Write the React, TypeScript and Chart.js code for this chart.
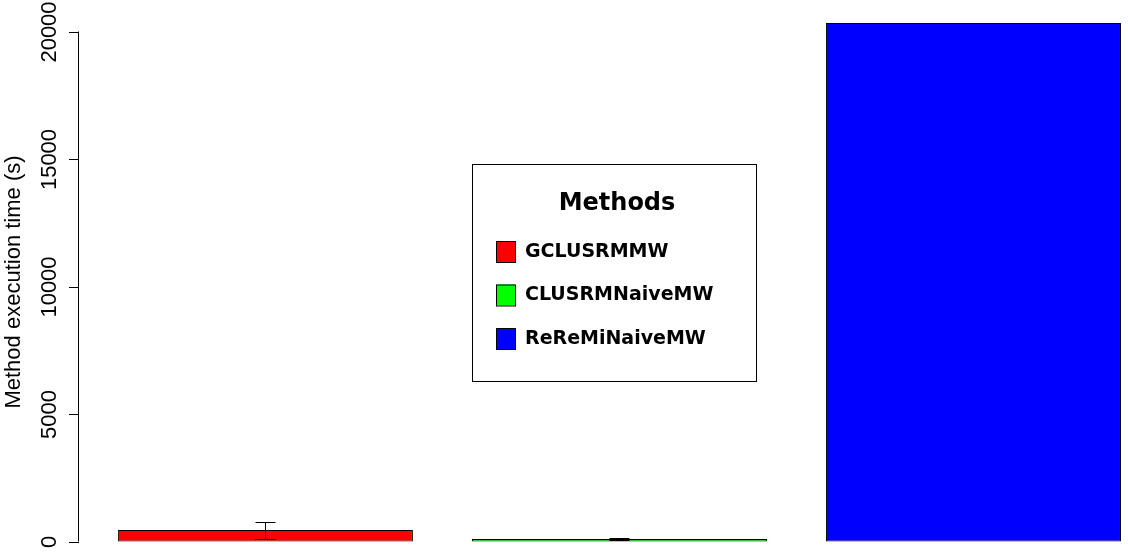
import React, { useEffect, useRef } from "react";
import { Chart, registerables } from "chart.js";

Chart.register(...registerables);

const methods = ["GCLUSRMMW", "CLUSRMNaiveMW", "ReReMiNaiveMW"];
const positions = [1, 2, 3];
const times = [471, 118, 20350];
const errLow: (number | null)[] = [130, 60, null];
const errHigh: (number | null)[] = [770, 150, null];
const colors = ["#ff0000", "#00ff00", "#0000ff"];
const yTickValues = [0, 5000, 10000, 15000, 20000];
const yTitle = "Method execution time (s)";
const legendTitle = "Methods";

const rAxisPlugin = {
  id: "rAxis",
  afterDraw(chart: any) {
    const { ctx } = chart;
    const ys = chart.scales.y;
    const x = Math.round(ys.right) - 0.5;
    ctx.save();
    ctx.strokeStyle = "#000";
    ctx.lineWidth = 1;
    ctx.beginPath();
    ctx.moveTo(x, Math.round(ys.getPixelForValue(yTickValues[0])) - 0.5);
    ctx.lineTo(x, Math.round(ys.getPixelForValue(yTickValues[yTickValues.length - 1])) - 0.5);
    ctx.stroke();
    ctx.fillStyle = "#000";
    ctx.font = '22px "Liberation Sans", Arial, sans-serif';
    ctx.textAlign = "center";
    ctx.textBaseline = "alphabetic";
    for (const v of yTickValues) {
      const py = ys.getPixelForValue(v);
      ctx.save();
      ctx.translate(55.5, py);
      ctx.rotate(-Math.PI / 2);
      ctx.fillText(String(v), 0, 0);
      ctx.restore();
    }
    ctx.save();
    ctx.translate(20, 282);
    ctx.rotate(-Math.PI / 2);
    ctx.fillText(yTitle, 0, 0);
    ctx.restore();
    ctx.restore();
  },
};

const errorBarPlugin = {
  id: "errBars",
  afterDatasetsDraw(chart: any) {
    const { ctx } = chart;
    const xs = chart.scales.x;
    const ys = chart.scales.y;
    ctx.save();
    ctx.strokeStyle = "#000";
    ctx.lineWidth = 1;
    positions.forEach((p, i) => {
      const lo = errLow[i];
      const hi = errHigh[i];
      if (lo == null || hi == null) return;
      const px = Math.round(xs.getPixelForValue(p)) + 0.5;
      const y1 = Math.round(ys.getPixelForValue(lo)) + 0.5;
      const y2 = Math.round(ys.getPixelForValue(hi)) + 0.5;
      ctx.beginPath();
      ctx.moveTo(px, y1);
      ctx.lineTo(px, y2);
      ctx.moveTo(px - 10, y1);
      ctx.lineTo(px + 10, y1);
      ctx.moveTo(px - 10, y2);
      ctx.lineTo(px + 10, y2);
      ctx.stroke();
    });
    ctx.restore();
  },
};

const boxLegendPlugin = {
  id: "boxLegend",
  afterDraw(chart: any) {
    const { ctx } = chart;
    const o = chart.options.plugins.boxLegend;
    ctx.save();
    ctx.fillStyle = "#fff";
    ctx.fillRect(o.x, o.y, o.w, o.h);
    ctx.strokeStyle = "#000";
    ctx.lineWidth = 1;
    ctx.strokeRect(o.x + 0.5, o.y + 0.5, o.w, o.h);
    ctx.fillStyle = "#000";
    ctx.textBaseline = "middle";
    ctx.textAlign = "center";
    ctx.font = 'bold 24px "DejaVu Sans", sans-serif';
    ctx.fillText(legendTitle, o.x + o.w / 2 + 3, o.titleY);
    ctx.textAlign = "left";
    ctx.font = 'bold 19px "DejaVu Sans", sans-serif';
    methods.forEach((m, i) => {
      const cy = o.firstY + i * o.rowGap;
      ctx.fillStyle = colors[i];
      ctx.fillRect(o.x + 24, cy - 10, 19, 21);
      ctx.strokeStyle = "#000";
      ctx.strokeRect(o.x + 24.5, cy - 10 + 0.5, 19, 21);
      ctx.fillStyle = "#000";
      ctx.fillText(m, o.x + 53, cy + 1);
    });
    ctx.restore();
  },
};

export default function App() {
  const ref = useRef<HTMLCanvasElement | null>(null);
  useEffect(() => {
    document.body.style.margin = "0";
    const canvas = ref.current;
    if (!canvas) return;
    const chart = new Chart(canvas, {
      type: "bar",
      data: {
        datasets: [
          {
            label: legendTitle,
            data: positions.map((p, i) => ({ x: p, y: times[i] })),
            backgroundColor: colors,
            borderColor: "#000",
            borderWidth: 1,
            borderSkipped: false,
            barPercentage: 295 / 354,
            categoryPercentage: 1,
          },
        ],
      },
      options: {
        responsive: false,
        animation: false,
        events: [],
        layout: { padding: { top: 6.5, bottom: 11, left: 0, right: 0 } },
        plugins: {
          legend: { display: false },
          tooltip: { enabled: false },
          boxLegend: { x: 472, y: 164, w: 284, h: 217, titleY: 204, firstY: 251, rowGap: 43.5 },
        } as any,
        scales: {
          x: {
            type: "linear",
            display: false,
            offset: false,
            min: 0.4735,
            max: 3.4365,
            afterBuildTicks: (s: any) => {
              s.ticks = positions.map((v) => ({ value: v }));
            },
          },
          y: {
            type: "linear",
            min: 0,
            max: 21000,
            afterFit: (s: any) => {
              s.width = 79;
            },
            afterBuildTicks: (s: any) => {
              s.ticks = yTickValues.map((v) => ({ value: v }));
            },
            ticks: { display: false },
            grid: { drawOnChartArea: false, drawTicks: true, tickLength: 10, color: "#000", lineWidth: 1 },
            border: { display: false },
          },
        },
      },
      plugins: [errorBarPlugin, rAxisPlugin, boxLegendPlugin],
    });
    return () => chart.destroy();
  }, []);
  return (
    <div style={{ width: 1128, height: 553, background: "#fff" }}>
      <canvas ref={ref} width={1128} height={553} />
    </div>
  );
}
